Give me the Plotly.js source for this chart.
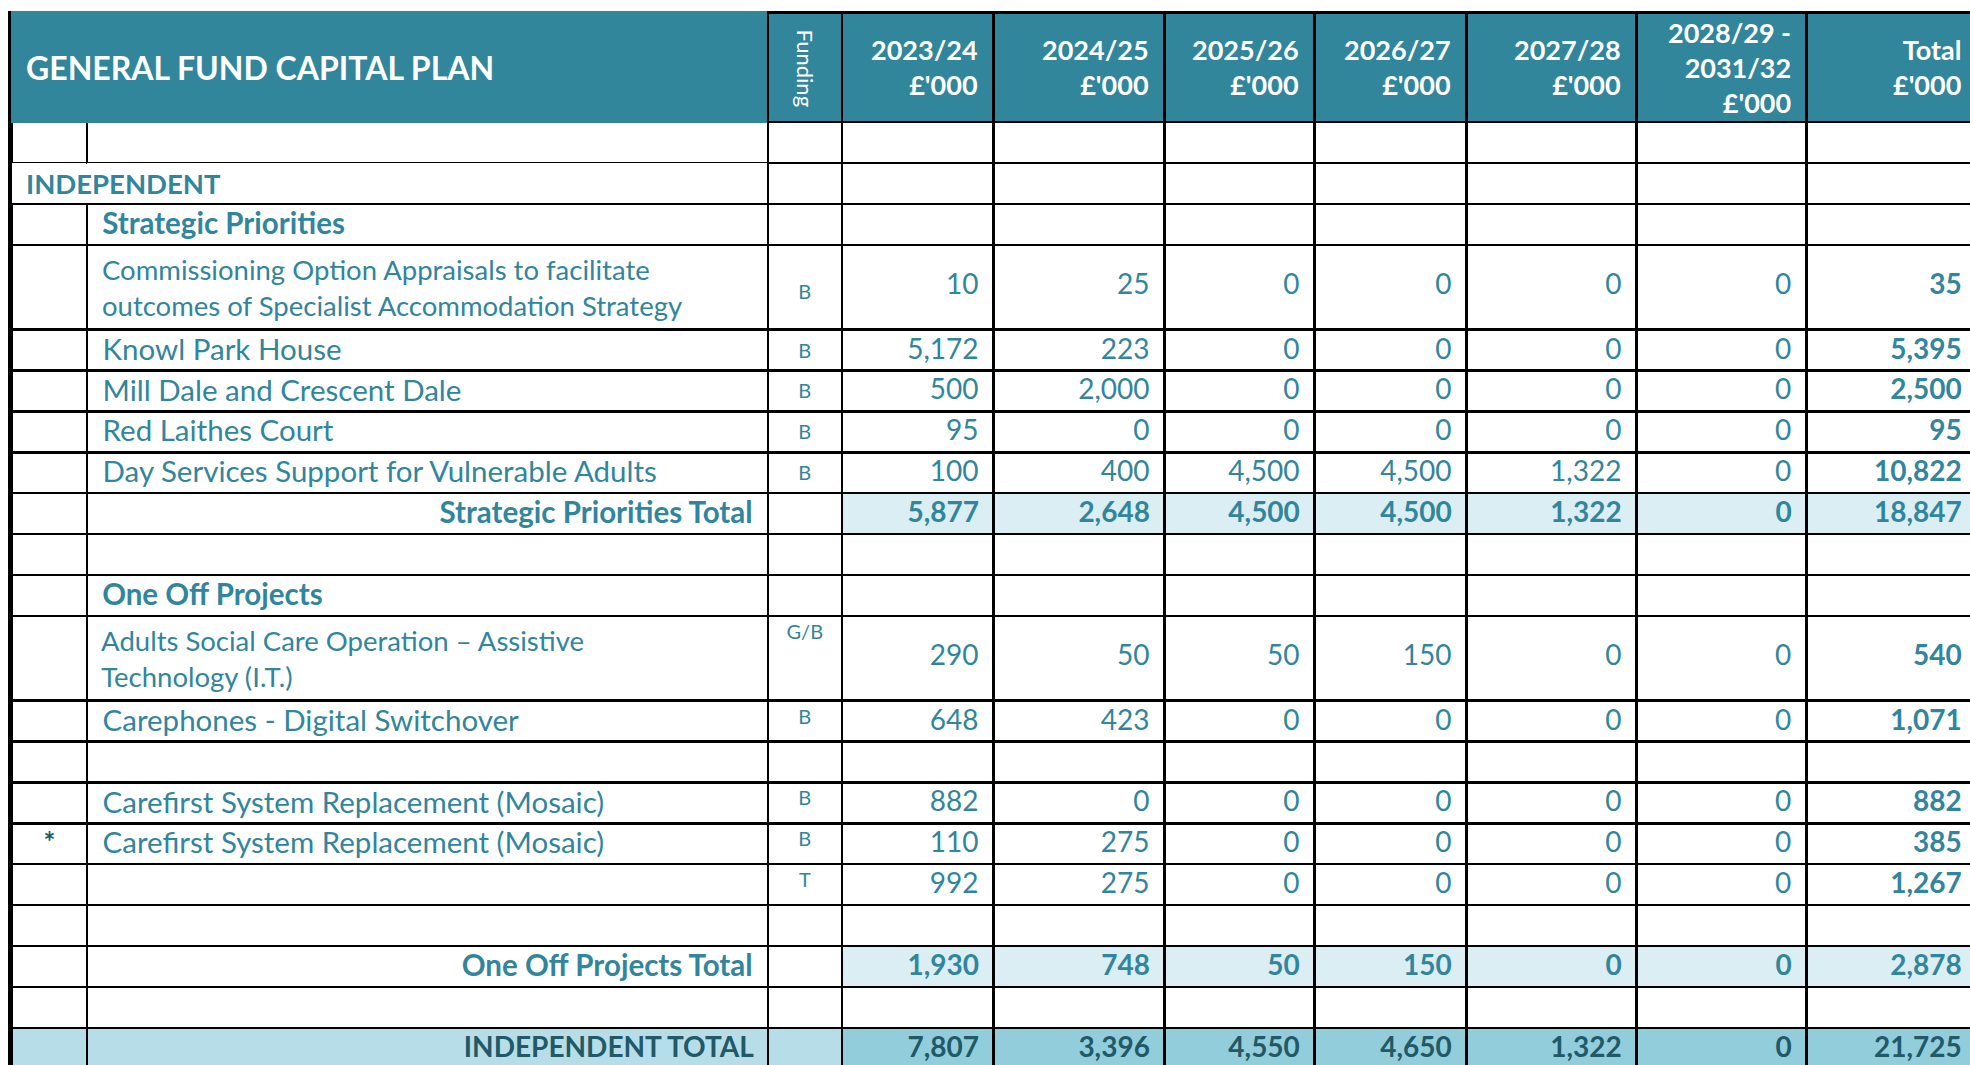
<!DOCTYPE html>
<html><head><meta charset="utf-8">
<script src="https://cdn.plot.ly/plotly-3.0.1.min.js"></script>
<style>html,body{margin:0;padding:0;overflow:hidden;background:#fff}#chart{width:1980px;height:1100px}</style>
</head><body><div id="chart"></div>
<script>
// ---------------- data ----------------
const title = 'GENERAL FUND CAPITAL PLAN';
const fundingHeader = 'Funding';
const yearHeaders = ["2023/24<br>£'000", "2024/25<br>£'000", "2025/26<br>£'000", "2026/27<br>£'000", "2027/28<br>£'000", "2028/29 -<br>2031/32<br>£'000", "Total<br>£'000"];
const sectionLabel = 'INDEPENDENT';
const rowKinds = ['blank','section','group','item2','item','item','item','item','subtotal','blank','group','item2','item','blank','item','item','item','blank','subtotal','blank','total'];
const markers = ['','','','','','','','','','','','','','','','*','','','','',''];
const descriptions = ['', '', 'Strategic Priorities',
  'Commissioning Option Appraisals to facilitate<br>outcomes of Specialist Accommodation Strategy',
  'Knowl Park House', 'Mill Dale and Crescent Dale', 'Red Laithes Court',
  'Day Services Support for Vulnerable Adults', 'Strategic Priorities Total', '', 'One Off Projects',
  'Adults Social Care Operation – Assistive<br>Technology (I.T.)', 'Carephones - Digital Switchover', '',
  'Carefirst System Replacement (Mosaic)', 'Carefirst System Replacement (Mosaic)', '', '',
  'One Off Projects Total', '', 'INDEPENDENT TOTAL'];
const funding = ['','','','B','B','B','B','B','','','','G/B','B','','B','B','T','','','',''];
const v2023 = [null,null,null,10,5172,500,95,100,5877,null,null,290,648,null,882,110,992,null,1930,null,7807];
const v2024 = [null,null,null,25,223,2000,0,400,2648,null,null,50,423,null,0,275,275,null,748,null,3396];
const v2025 = [null,null,null,0,0,0,0,4500,4500,null,null,50,0,null,0,0,0,null,50,null,4550];
const v2026 = [null,null,null,0,0,0,0,4500,4500,null,null,150,0,null,0,0,0,null,150,null,4650];
const v2027 = [null,null,null,0,0,0,0,1322,1322,null,null,0,0,null,0,0,0,null,0,null,1322];
const v2028 = [null,null,null,0,0,0,0,0,0,null,null,0,0,null,0,0,0,null,0,null,0];
const vTotal = [null,null,null,35,5395,2500,95,10822,18847,null,null,540,1071,null,882,385,1267,null,2878,null,21725];

// ---------------- style ----------------
const W = 1980, H = 1100;
const TOP = 12.6, HEADER_H = 109.5, ROW_H = 40.9;
const colPx = [2.5, 75, 681, 74, 152, 171, 150, 152, 170, 170, 170]; // edge, marker, desc, funding, 7 value cols
const LEFT = 9.5;
const TEAL = '#31859C', HEAD = '#31869B', DARK = '#215967';
const SUB_FILL = '#DAEEF3', TOT_FILL_L = '#B7DEE8', TOT_FILL_R = '#92CDDC';
const FONT = 'Lato, "Open Sans", sans-serif';
const NB = '\u00A0';
const BODY = 28, DESC = 29.5, DESC2 = 27.5, FUND = 20;
const fundingMiddle = [3, 4, 5, 6, 7];

const n = rowKinds.length;
const valueCols = [v2023, v2024, v2025, v2026, v2027, v2028, vTotal];
const fmt = v => v == null ? '' : v.toLocaleString('en-US');
const isTot = k => k === 'subtotal' || k === 'total';

const colEdge = rowKinds.map(() => '');
const col0 = markers.slice();
const col1 = descriptions.map((d, i) => {
  const k = rowKinds[i];
  if (!d) return '';
  if (isTot(k)) return d + NB;
  return NB + d.replace('<br>', '<br>' + NB);
});
const col2 = funding.map((f, i) => {
  if (!f || !fundingMiddle.includes(i)) return f;
  return rowKinds[i] === 'item2' ? NB + '<br>' + f : '<span>' + f + '</span>';
});
const numCols = valueCols.map(arr => arr.map((v, i) => {
  let t = fmt(v);
  if (!t) return '';
  t = t + NB;
  if (rowKinds[i] === 'item2') t = NB + '<br><span style="font-size:' + BODY + 'px">' + t + '</span>';
  return t;
}));
const allCols = [colEdge, col0, col1, col2].concat(numCols);
const nc = allCols.length;

const fills = [], lines = [], fcolors = [], fsizes = [], fweights = [], aligns = [];
for (let c = 0; c < nc; c++) {
  const f = [], l = [], fc = [], fs = [], fw = [], al = [];
  for (let i = 0; i < n; i++) {
    const k = rowKinds[i];
    let fill = '#ffffff';
    if (k === 'subtotal' && c >= 4) fill = SUB_FILL;
    if (k === 'total') fill = c >= 4 ? TOT_FILL_R : TOT_FILL_L;
    if (c === 0) fill = '#000000';
    f.push(fill);
    l.push(k === 'section' && (c === 1 || c === 2) ? 'rgba(0,0,0,0)' : '#000000');
    fc.push(k === 'total' ? DARK : (c === 1 ? DARK : TEAL));
    let s = BODY;
    if (c === 2) s = k === 'item2' ? DESC2 : (k === 'total' ? BODY : DESC);
    if (c === 3) s = FUND;
    if (c >= 4 && k === 'item2') s = 18;
    fs.push(s);
    const bold = c === 1 || c === 10 || isTot(k) || (c === 2 && k === 'group');
    fw.push(bold && c !== 3 ? 'bold' : 'normal');
    let a = 'right';
    if (c <= 1 || c === 3) a = 'center';
    if (c === 2) a = isTot(k) ? 'right' : 'left';
    al.push(a);
  }
  fills.push(f); lines.push(l); fcolors.push(fc); fsizes.push(fs); fweights.push(fw); aligns.push(al);
}

const totalPx = colPx.reduce((a, b) => a + b, 0);
const headerFill = colPx.map((_, c) => c === 0 ? '#000000' : HEAD);
const headerLine = colPx.map((_, c) => (c === 1 || c === 2) ? HEAD : '#000000');

const trace = {
  type: 'table',
  domain: {x: [LEFT / W, (LEFT + totalPx) / W], y: [0, 1 - TOP / H]},
  columnwidth: colPx,
  header: {
    values: colPx.map(() => ''),
    height: HEADER_H,
    fill: {color: headerFill},
    line: {color: headerLine, width: 2.5},
    font: {family: FONT, size: 20, color: '#fff'}
  },
  cells: {
    values: allCols,
    height: ROW_H,
    align: aligns,
    fill: {color: fills},
    line: {color: lines, width: 2.5},
    font: {family: FONT, size: fsizes, color: fcolors, weight: fweights}
  }
};

// header labels placed over their columns
const edges = [LEFT];
colPx.forEach(w => edges.push(edges[edges.length - 1] + w));
const hy = 1 - (TOP + HEADER_H / 2) / H;
const annotations = [
  {text: '<b>' + title + '</b>', x: 24 / W, y: hy, xref: 'paper', yref: 'paper', xanchor: 'left', yanchor: 'middle', showarrow: false, font: {family: FONT, size: 32, color: '#fff'}},
  {text: fundingHeader, x: (edges[3] + edges[4]) / 2 / W, y: 1 - (TOP + 55) / H, xref: 'paper', yref: 'paper', xanchor: 'center', yanchor: 'middle', textangle: 90, showarrow: false, font: {family: FONT, size: 22, color: '#fff'}},
  {text: '<b>' + sectionLabel + '</b>', x: 24 / W, y: 1 - (TOP + HEADER_H + ROW_H * 1.5) / H, xref: 'paper', yref: 'paper', xanchor: 'left', yanchor: 'middle', showarrow: false, font: {family: FONT, size: 27.5, color: TEAL}}
];
yearHeaders.forEach((t, j) => {
  annotations.push({text: '<b>' + t + '</b>', x: (edges[5 + j] - 14) / W, y: hy, xref: 'paper', yref: 'paper', xanchor: 'right', yanchor: 'middle', align: 'right', showarrow: false, font: {family: FONT, size: 27, color: '#fff'}});
});

Plotly.newPlot('chart', [trace], {
  width: W, height: H,
  margin: {l: 0, r: 0, t: 0, b: 0},
  paper_bgcolor: '#ffffff',
  annotations: annotations
}, {displayModeBar: false, staticPlot: true});
</script>
</body></html>
